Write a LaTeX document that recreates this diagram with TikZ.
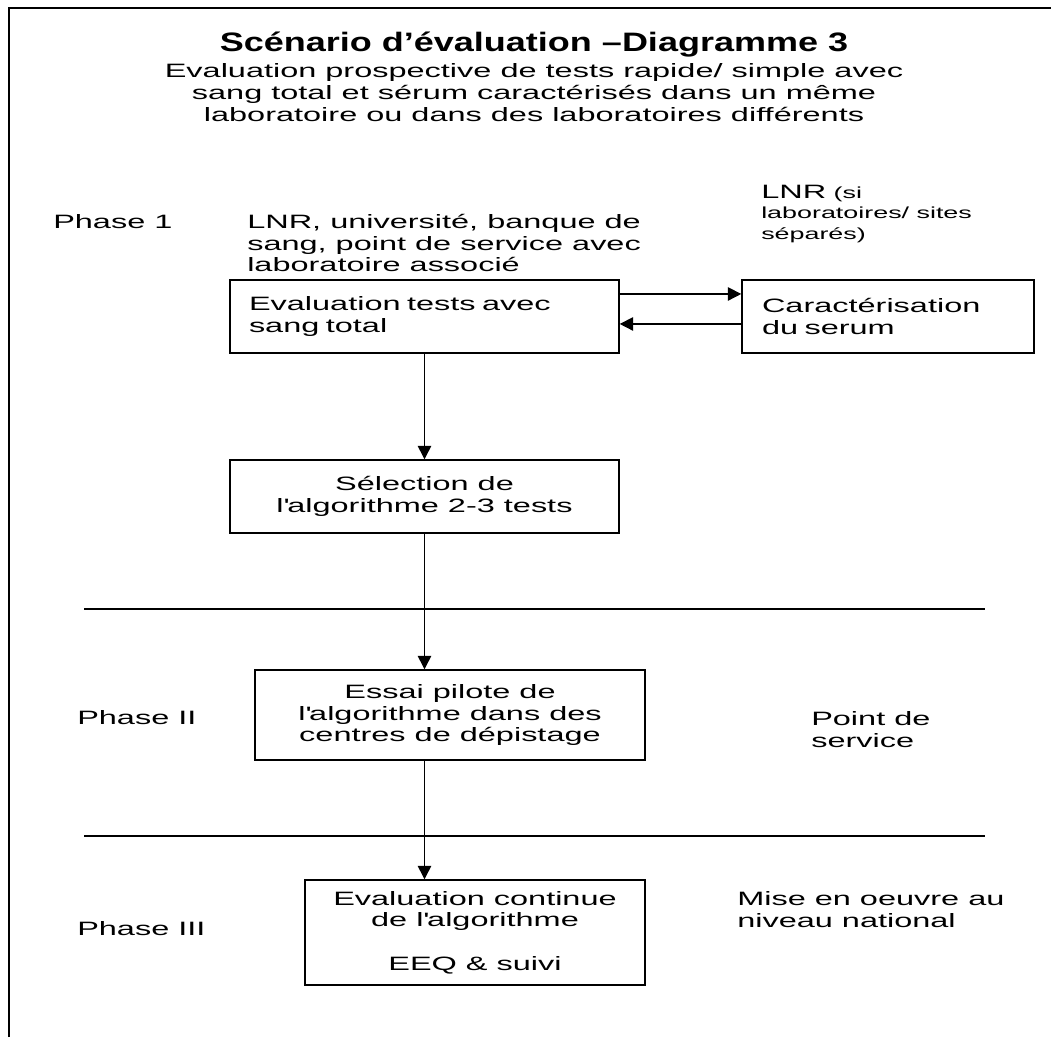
\documentclass[tikz,border=0pt]{standalone}
\usepackage{fontspec}
\setmainfont{Liberation Sans}[FakeStretch=1.68]
\newfontfamily\titlefont{Liberation Sans}[FakeStretch=1.35]
\usetikzlibrary{arrows.meta}
\newcommand{\bodysize}{\fontsize{14.5}{16.3}\selectfont}
\newcommand{\smallsize}{\fontsize{12}{15.4}\selectfont}
\tikzset{
  lbl/.style={inner sep=0.75pt, font=\bodysize},
  box/.style={draw, line width=1.1pt, inner sep=0pt, font=\bodysize},
  arr/.style={line width=1.1pt, -{Triangle[length=10pt,width=10pt]}},
}
\begin{document}
\begin{tikzpicture}[x=0.75pt,y=0.75pt,yscale=-1,xscale=1]
\useasboundingbox (0,0) rectangle (1051,1039);

%Straight Lines [frame]
\draw [line width=1.6pt] (9,1037) -- (9,8) -- (1051,8) ;

% Text Node
\node [inner sep=0.75pt, font=\titlefont\fontsize{20}{23}\selectfont\bfseries] (titre) at (534,45) {Scénario d’évaluation –Diagramme 3};
% Text Node
\node [lbl, align=center] (soustitre) at (534,92.5) {Evaluation prospective de tests rapide/ simple avec\\sang total et sérum caractérisés dans un même\\laboratoire ou dans des laboratoires différents};

% Text Node
\node [lbl, anchor=west] (phaseI) at (52,222) {Phase 1};
% Text Node
\node [lbl, anchor=west, align=left] (lieux) at (246,243) {LNR, université, banque de\\sang, point de service avec\\laboratoire associé};
% Text Node
\node [lbl, anchor=west, align=left, font=\smallsize] (lnrsep) at (760,214) {{\bodysize LNR} (si\\laboratoires/ sites\\séparés)};

%Shape: Rectangle
\node [box, minimum width=291.75pt, minimum height=54.75pt, text width=263.25pt, align=left] (evalsang) at (424.5,316.5) {Evaluation tests avec\\sang total};
%Shape: Rectangle
\node [box, minimum width=219pt, minimum height=54.75pt, text width=189pt, align=left] (caract) at (888,316.5) {Caractérisation\\du serum};
%Shape: Rectangle
\node [box, minimum width=291.75pt, minimum height=54.75pt, align=center] (selection) at (424.5,496.5) {Sélection de\\l\textquotesingle algorithme 2-3 tests};

%Straight Lines
\draw [arr] ([yshift=-16.9pt]evalsang.east) -- ([yshift=-16.9pt]evalsang.east -| caract.west) ;
%Straight Lines
\draw [arr] ([yshift=5.6pt]caract.west) -- ([yshift=5.6pt]caract.west -| evalsang.east) ;
%Straight Lines
\draw [arr] (evalsang.south) -- (selection.north) ;

%Straight Lines [phase separators]
\draw [line width=1pt] (84,609) -- (985,609) ;
\draw [line width=1pt] (84,836) -- (985,836) ;

% Text Node
\node [lbl, anchor=west] (phaseII) at (76,718) {Phase II};
%Shape: Rectangle
\node [box, minimum width=292.5pt, minimum height=67.5pt, align=center] (essai) at (450,715) {Essai pilote de\\l\textquotesingle algorithme dans des\\centres de dépistage};
% Text Node
\node [lbl, anchor=west, align=left] (pds) at (810,729.5) {Point de\\service};

% Text Node
\node [lbl, anchor=west] (phaseIII) at (76,929) {Phase III};
%Shape: Rectangle
\node [box, minimum width=255pt, minimum height=78.75pt, align=center] (evalcont) at (475,932.5) {Evaluation continue\\de l\textquotesingle algorithme\\[16.3pt]EEQ \& suivi};
% Text Node
\node [lbl, anchor=west, align=left] (national) at (736,909.5) {Mise en oeuvre au\\niveau national};

%Straight Lines
\draw [arr] (selection.south) -- (selection.south |- essai.north) ;
%Straight Lines
\draw [arr] (selection.south |- essai.south) -- (selection.south |- evalcont.north) ;

\end{tikzpicture}
\end{document}
